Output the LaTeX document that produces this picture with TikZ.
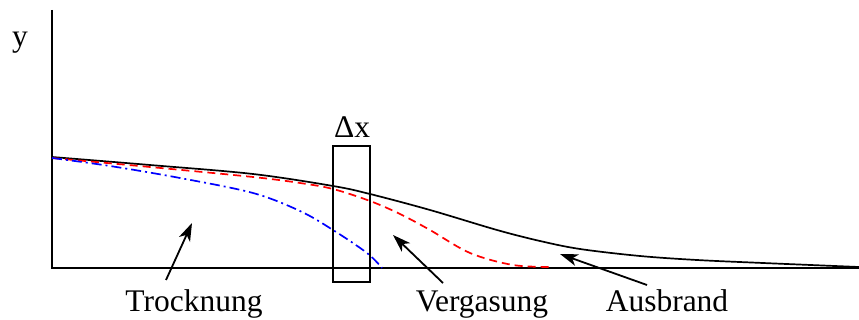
\documentclass[tikz,border=0pt]{standalone}
\usepackage{fontspec}
\setmainfont{Liberation Serif}
\usepackage{tikz}
\usetikzlibrary{positioning, arrows.meta}

\begin{document}
\begin{tikzpicture}[x=1pt, y=-1pt, font=\fontsize{31.5}{36}\selectfont,
  axis/.style={line width=2.2pt},
  front/.style={line width=1.7pt, line join=round},
  pointer/.style={line width=1.8pt, -{Stealth[length=18pt, width=12pt, inset=5pt]}},
  lbl/.style={inner sep=0pt, anchor=base}]

\useasboundingbox (0,0) rectangle (859,320);

% axes
\coordinate (orig) at (52,268);
\coordinate (ytop) at (52,10);
\coordinate (xend) at (859,268);
\draw[axis] (ytop) -- (orig) -- (xend);
\node[lbl] (ylab) at (20,47) {y};

% fronts: Ausbrand (black), Vergasung (red), Trocknung (blue)
\draw[front] plot[smooth, tension=0.55] coordinates {(52,157) (150,165) (253,174) (333,186) (370,194) (430,210) (497,230) (540,241) (580,249) (640,256) (697,260) (763,263) (859,267)};
\draw[front, red, dash pattern=on 8pt off 5pt] plot[smooth, tension=0.55] coordinates {(52,158) (150,167) (253,177) (300,183) (333,189) (370,201) (400,214) (430,230) (470,253) (513,265) (553,267)};
\draw[front, blue, dash pattern=on 10pt off 4pt on 2pt off 4pt] plot[smooth, tension=0.55] coordinates {(52,158) (110,166) (180,178) (253,193) (300,211) (333,230) (367,253) (382,268)};

% control volume
\draw[line width=1.6pt] (333,146) rectangle (370,282);
\node[lbl] (dx) at (352,138) {Δx};

% zone labels
\node[lbl] (trock) at (194,312) {Trocknung};
\node[lbl] (verg) at (482,312) {Vergasung};
\node[lbl] (ausb) at (667,312) {Ausbrand};

% pointers
\coordinate (trockTail) at (166,280);
\coordinate (trockHead) at (192,223);
\coordinate (vergTail) at (443,283);
\coordinate (vergHead) at (393,235);
\coordinate (ausbTail) at (647,285);
\coordinate (ausbHead) at (560,254);
\draw[pointer] (trockTail) -- (trockHead);
\draw[pointer] (vergTail) -- (vergHead);
\draw[pointer] (ausbTail) -- (ausbHead);

\end{tikzpicture}
\end{document}
